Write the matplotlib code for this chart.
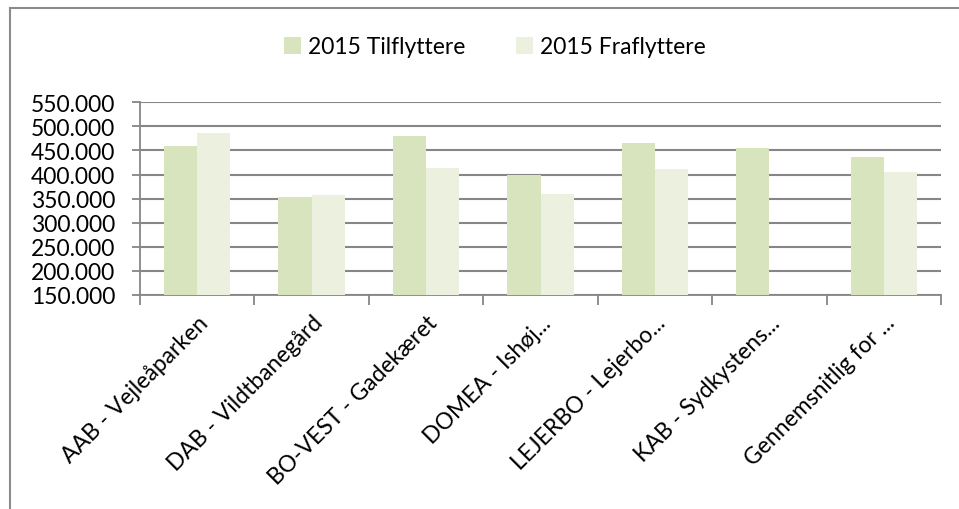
import matplotlib.pyplot as plt
from matplotlib.lines import Line2D
from matplotlib.ticker import FuncFormatter
import numpy as np

plt.rcParams['font.family'] = ['Lato', 'DejaVu Sans']

kategorier = ['AAB - Vejleåparken', 'DAB - Vildtbanegård', 'BO-VEST - Gadekæret',
              'DOMEA - Ishøj...', 'LEJERBO - Lejerbo...', 'KAB - Sydkystens...',
              'Gennemsnitlig for ...']
tilflyttere = [460000, 354000, 481000, 400000, 466000, 456000, 436000]
fraflyttere = [486000, 358000, 414000, 360000, 411000, np.nan, 405000]

farve_til = '#D7E4BD'
farve_fra = '#EBF1DE'
grid_farve = '#868686'
fs = 16.5

fig = plt.figure(figsize=(9.59, 5.10), dpi=100)
ax = fig.add_axes([140 / 959, 1 - 296 / 510, (941 - 140) / 959, (296 - 103.3) / 510])

x = np.arange(len(kategorier))
b = 0.29
ax.bar(x - b / 2, tilflyttere, b, color=farve_til, label='2015 Tilflyttere', zorder=3)
ax.bar(x + b / 2, fraflyttere, b, color=farve_fra, label='2015 Fraflyttere', zorder=3)

ax.set_xlim(-0.5, len(kategorier) - 0.5)
ax.set_ylim(150000, 550000)
ax.set_yticks(np.arange(150000, 550001, 50000))
ax.yaxis.set_major_formatter(FuncFormatter(lambda v, p: f'{v:,.0f}'.replace(',', '.')))
ax.grid(axis='y', color=grid_farve, linewidth=1.5, zorder=0)

ax.set_xticks(x)
ax.set_xticklabels(kategorier, rotation=45, ha='right', rotation_mode='anchor')
ax.set_xticks(np.arange(-0.5, len(kategorier)), minor=True)
ax.tick_params(axis='x', which='major', length=0, pad=12, labelsize=fs)
ax.tick_params(axis='x', which='minor', length=7, width=1.3, color=grid_farve)
ax.tick_params(axis='y', length=6, width=1.3, color=grid_farve, labelsize=fs, pad=12)

for s in ['top', 'right']:
    ax.spines[s].set_visible(False)
for s in ['left', 'bottom']:
    ax.spines[s].set_color(grid_farve)
    ax.spines[s].set_linewidth(1.3)

fig.legend(loc='center', bbox_to_anchor=(495 / 959, 1 - 48 / 510), ncol=2, frameon=False,
           fontsize=fs, handlelength=0.75, handleheight=0.75, handletextpad=0.3,
           columnspacing=2.2)

# ramme om diagrammet
fig.add_artist(Line2D([10 / 959, 10 / 959], [0, 1 - 9 / 510], color='#8c8c8c', linewidth=1.5))
fig.add_artist(Line2D([10 / 959, 1], [1 - 9 / 510, 1 - 9 / 510], color='#8c8c8c', linewidth=1.5))

fig.savefig('out.png', dpi=100)
